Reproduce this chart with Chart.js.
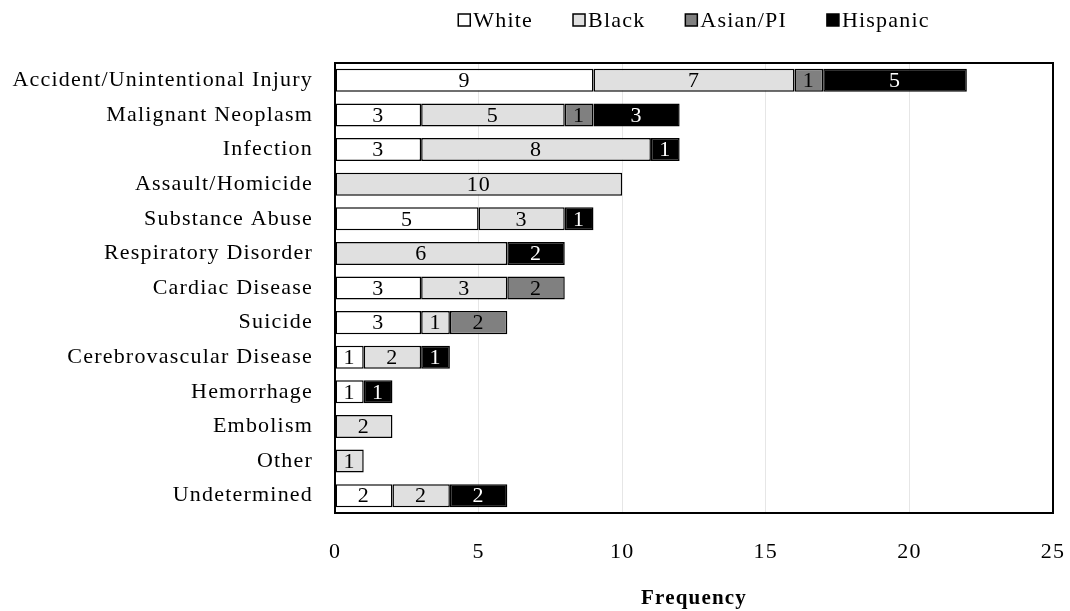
<!DOCTYPE html>
<html>
<head>
<meta charset="utf-8">
<script src="https://cdn.jsdelivr.net/npm/chart.js@4/dist/chart.umd.min.js"></script>
<style>
  html, body { margin: 0; padding: 0; background: #fff; }
  #wrap { width: 1070px; height: 611px; }
</style>
</head>
<body>
<div id="wrap"><canvas id="barChart" width="1070" height="611"></canvas></div>
<script>
'use strict'

var categories = ['Accident/Unintentional Injury', 'Malignant Neoplasm', 'Infection', 'Assault/Homicide',
  'Substance Abuse', 'Respiratory Disorder', 'Cardiac Disease', 'Suicide', 'Cerebrovascular Disease',
  'Hemorrhage', 'Embolism', 'Other', 'Undetermined'];
var white    = [9, 3, 3, 0, 5, 0, 3, 3, 1, 1, 0, 0, 2];
var black    = [7, 5, 8, 10, 3, 6, 3, 1, 2, 0, 2, 1, 2];
var asianPI  = [1, 1, 0, 0, 0, 0, 2, 2, 0, 0, 0, 0, 0];
var hispanic = [5, 3, 1, 0, 1, 2, 0, 0, 1, 1, 0, 0, 2];
var xTicks = [0, 5, 10, 15, 20, 25];

var serif = '"Liberation Serif", "Times New Roman", serif';

// the original text is set a little wide
var spacing = {
  id: 'spacing',
  beforeDraw: function(chart) {
    chart.ctx.letterSpacing = '1.2px';
  }
};

// values written in the middle of each segment
var segmentLabels = {
  id: 'segmentLabels',
  afterDatasetsDraw: function(chart) {
    var ctx = chart.ctx;
    ctx.save();
    ctx.font = '22px ' + serif;
    ctx.textAlign = 'center';
    ctx.textBaseline = 'middle';
    chart.data.datasets.forEach(function(ds, i) {
      var meta = chart.getDatasetMeta(i);
      meta.data.forEach(function(bar, j) {
        var v = ds.data[j];
        if (!v) return;
        ctx.fillStyle = ds.labelColor;
        ctx.fillText(v, (bar.x + bar.base) / 2, bar.y + 1);
      });
    });
    ctx.restore();
  }
};

// box round the plot + legend centred over it
var frameAndLegend = {
  id: 'frameAndLegend',
  afterDraw: function(chart) {
    var ctx = chart.ctx;
    var a = chart.chartArea;
    ctx.save();
    ctx.strokeStyle = '#000';
    ctx.lineWidth = 2;
    ctx.strokeRect(a.left, a.top, a.right - a.left, a.bottom - a.top);

    ctx.font = '22px ' + serif;
    ctx.textBaseline = 'middle';
    ctx.textAlign = 'left';
    var box = 12, gap = 3, space = 40;
    var items = chart.data.datasets.map(function(ds) {
      return { label: ds.label, fill: ds.backgroundColor, w: ctx.measureText(ds.label).width };
    });
    var total = 0;
    items.forEach(function(it, i) { total += box + gap + it.w + (i ? space : 0); });
    var x = (a.left + a.right) / 2 - total / 2;
    var y = 20;
    items.forEach(function(it) {
      ctx.fillStyle = it.fill;
      ctx.fillRect(x, y - box / 2, box, box);
      ctx.lineWidth = 1.5;
      ctx.strokeStyle = '#000';
      ctx.strokeRect(x, y - box / 2, box, box);
      ctx.fillStyle = '#000';
      ctx.fillText(it.label, x + box + gap, y + 1);
      x += box + gap + it.w + space;
    });
    ctx.restore();
  }
};

function makeSet(label, data, color, textColor) {
  return {
    label: label,
    data: data,
    backgroundColor: color,
    borderColor: '#000',
    borderWidth: 1.5,
    borderSkipped: false,
    labelColor: textColor,
    barPercentage: 0.665,
    categoryPercentage: 1
  };
}

var chart = new Chart(document.getElementById('barChart'), {
  type: 'bar',
  data: {
    labels: categories,
    datasets: [
      makeSet('White', white, '#ffffff', '#000'),
      makeSet('Black', black, '#e0e0e0', '#000'),
      makeSet('Asian/PI', asianPI, '#808080', '#000'),
      makeSet('Hispanic', hispanic, '#000000', '#fff')
    ]
  },
  options: {
    indexAxis: 'y',
    responsive: false,
    animation: false,
    layout: { padding: { top: 63, right: 0, bottom: 0, left: 0 } },
    plugins: {
      legend: { display: false },
      tooltip: { enabled: false }
    },
    scales: {
      x: {
        stacked: true,
        min: 0,
        max: 25,
        afterBuildTicks: function(scale) {
          scale.ticks = xTicks.map(function(v) { return { value: v }; });
        },
        afterFit: function(scale) { scale.height = 98; },
        grid: { color: '#e6e6e6', lineWidth: 1, drawTicks: true, tickLength: 20, tickColor: 'rgba(0,0,0,0)' },
        border: { display: false },
        ticks: { color: '#000', font: { family: serif, size: 22 }, padding: 6 },
        title: {
          display: true,
          text: 'Frequency',
          color: '#000',
          font: { family: serif, size: 21, weight: 'bold' },
          padding: { top: 0, bottom: 0 }
        }
      },
      y: {
        stacked: true,
        afterFit: function(scale) { scale.width = 335; },
        grid: { display: false, drawTicks: false },
        border: { display: false },
        ticks: { color: '#000', font: { family: serif, size: 22 }, padding: 22 }
      }
    }
  },
  plugins: [spacing, segmentLabels, frameAndLegend]
});
</script>
</body>
</html>
